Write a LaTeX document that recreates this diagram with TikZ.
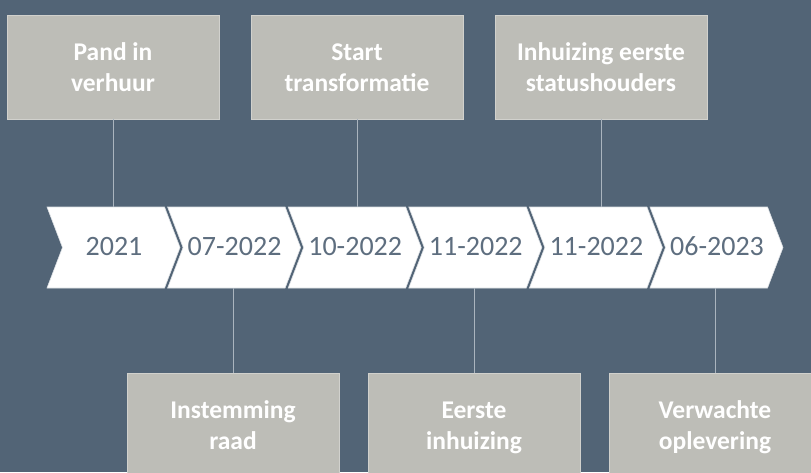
\documentclass[tikz,border=0pt]{standalone}
\usepackage{fontspec}
\setmainfont{Carlito}
\definecolor{bg}{HTML}{526476}
\definecolor{boxfill}{HTML}{BDBDB7}
\definecolor{datetext}{HTML}{5E6E7F}
\definecolor{linec}{HTML}{AAB4BE}
\newcommand\twolines[2]{\rule{0pt}{24.6pt}#1\\#2\rule[-6.4pt]{0pt}{6.4pt}}
\begin{document}
\begin{tikzpicture}[x=1pt,y=1pt,
  evbox/.style={fill=boxfill, draw=boxfill!70!white, line width=0.6pt,
    minimum width=212pt, minimum height=104pt, inner sep=0pt, text=white,
    font=\fontsize{25.5}{31}\selectfont\bfseries, align=center},
  datelbl/.style={text=datetext, font=\fontsize{28}{34}\selectfont, inner sep=0pt},
  chev/.style={fill=white, draw=white!80!bg, line width=0.6pt},
  link/.style={draw=linec, line width=1pt}]
\fill[bg] (0,0) rectangle (811,472);
\useasboundingbox (0,0) rectangle (811,472);
\clip (0,0) rectangle (811,472);
% chevrons
\def\W{117.5}\def\D{15.5}
\foreach \i/\lab in {0/2021,1/07-2022,2/10-2022,3/11-2022,4/11-2022,5/06-2023}{
  \pgfmathsetmacro\xl{47+120.6*\i}
  \draw[chev] (\xl,265) -- ++(\W,0) -- ++(\D,-40.5) -- ++(-\D,-40.5) -- ++(-\W,0) -- ++(\D,40.5) -- cycle;
  \node[datelbl] (d\i) at (\xl+67,225.5) {\lab};
}
% connector points on chevrons
\coordinate (ct1) at (113,265);
\coordinate (ct2) at (357,265);
\coordinate (ct3) at (601,265);
\coordinate (cb1) at (233,184);
\coordinate (cb2) at (474,184);
\coordinate (cb3) at (715,184);
% top boxes
\node[evbox] (t1) at (113,405) {\twolines{Pand in}{verhuur}};
\node[evbox] (t2) at (357,405) {\twolines{Start}{transformatie}};
\node[evbox] (t3) at (601,405) {\twolines{Inhuizing eerste}{statushouders}};
% bottom boxes
\node[evbox] (b1) at (233,47) {\twolines{Instemming}{raad}};
\node[evbox] (b2) at (474,47) {\twolines{Eerste}{inhuizing}};
\node[evbox] (b3) at (715,47) {\twolines{Verwachte}{oplevering}};
% connectors
\draw[link] (t1.south) -- (ct1);
\draw[link] (t2.south) -- (ct2);
\draw[link] (t3.south) -- (ct3);
\draw[link] (cb1) -- (b1.north);
\draw[link] (cb2) -- (b2.north);
\draw[link] (cb3) -- (b3.north);
\end{tikzpicture}
\end{document}
